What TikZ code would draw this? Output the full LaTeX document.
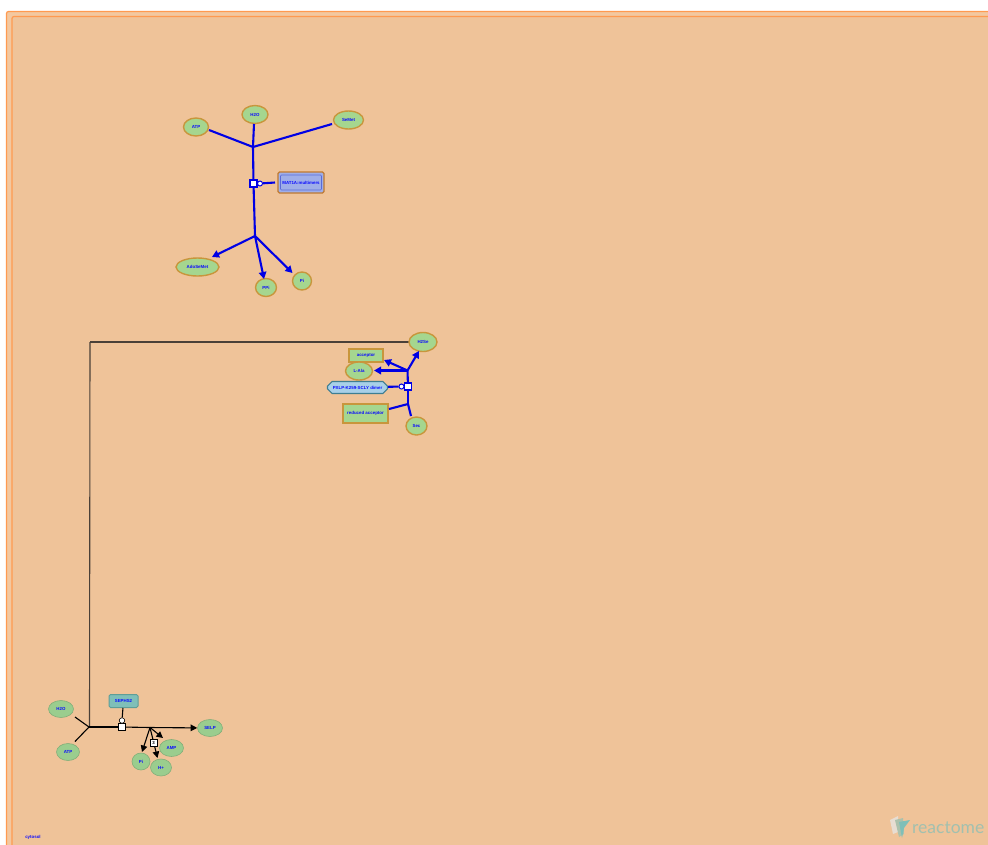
\documentclass[tikz,border=0pt]{standalone}
\usepackage{fontspec}
\setmainfont{Liberation Sans}
\newfontfamily\wmfont{Lato}
\usetikzlibrary{arrows.meta,shapes.geometric,shapes.misc}
\definecolor{bgin}{HTML}{EFC399}
\definecolor{bgmid}{HTML}{F3C8A0}
\definecolor{frame}{HTML}{FF9A50}
\definecolor{chem}{HTML}{A5D68F}
\definecolor{chemb}{HTML}{C8963C}
\definecolor{chemc}{HTML}{9ACD8E}
\definecolor{txt}{HTML}{0A0AFF}
\definecolor{cplx}{HTML}{9FAEE8}
\definecolor{cplxb}{HTML}{C07A30}
\definecolor{cplxi}{HTML}{5A6AD8}
\definecolor{prot}{HTML}{A8D0E8}
\definecolor{protb}{HTML}{3E7E92}
\definecolor{teal}{HTML}{7FBFB8}
\definecolor{tealb}{HTML}{5E9E98}
\definecolor{longl}{HTML}{4A4038}
\tikzset{
 x=1pt,y=-1pt,
 lab/.style={font=\bfseries\fontsize{4.4}{5}\selectfont,text=txt,inner sep=0pt},
 chemact/.style={ellipse,draw=chemb,line width=1.4pt,fill=chem,minimum width=#1,minimum height=18pt,lab},
 chemoff/.style={ellipse,draw=chemc!85!black,line width=.6pt,fill=chemc,minimum width=#1,minimum height=19pt,lab},
 flow/.style={draw=blue!90!black,line width=2.1pt},
 flowa/.style={flow,-{Triangle[length=7pt,width=7.5pt]}},
 kflow/.style={draw=black,line width=1.1pt},
 kflowa/.style={kflow,-{Triangle[length=6.5pt,width=6.5pt]}},
 proc/.style={draw=blue!90!black,fill=white,line width=1.2pt,minimum size=7pt,inner sep=0pt},
 kproc/.style={draw=black,fill=white,line width=.7pt,minimum size=7pt,inner sep=0pt},
 cat/.style={circle,draw=blue!90!black,fill=white,line width=1pt,minimum size=5pt,inner sep=0pt},
 kcat/.style={circle,draw=black,fill=white,line width=.6pt,minimum size=5.5pt,inner sep=0pt},
}
\begin{document}
\begin{tikzpicture}
\useasboundingbox (0,0) rectangle (988,844);
\fill[white] (0,0) rectangle (988,844);
\fill[bgmid,draw=frame,line width=1.2pt,rounded corners=2pt] (6.5,11.5) rectangle (996,850);
\fill[bgin,draw=frame,line width=1.2pt,rounded corners=2pt] (12,16.5) rectangle (996,850);
% compartment label
\node[lab] (cyt) at (33,837.5) {cytosol};
% top reaction
\coordinate (j1) at (253,147);
\coordinate (j2) at (255,236);
\node[chemact=25pt] (atp1) at (196,127) {ATP};
\node[chemact=26pt] (h2o1) at (255,114.5) {H2O};
\node[chemact=30pt] (semet) at (348.5,120) {SeMet};
\node[chemact=43pt] (adosemet) at (197.5,267) {AdoSeMet};
\node[chemact=21pt] (ppi) at (266,287.5) {PPi};
\node[chemact=19pt] (pi1) at (302,281) {Pi};
\draw[flow] (209,130) -- (j1);
\draw[flow] (254,124) -- (j1);
\draw[flow] (332,124) -- (j1);
\node[proc] (p1) at (253.5,183.5) {};
\node[cat] (c1) at (260,183.5) {};
\node[draw=cplxb,line width=1.1pt,fill=cplx,rounded corners=1.5pt,minimum width=46pt,minimum height=21pt] (mat) at (301,182.5) {};
\node[draw=cplxi,line width=.6pt,fill=cplx,rounded corners=1pt,minimum width=41pt,minimum height=15pt,lab] (matl) at (301,182.5) {MAT1A:multimers};
\draw[flow] (j1) -- (p1);
\draw[flow] (p1) -- (j2);
\draw[flow] (c1) -- (275,182.5);
\draw[flowa] (j2) -- (212,257);
\draw[flowa] (j2) -- (264,279);
\draw[flowa] (j2) -- (292.5,273);
% middle reaction
\coordinate (j3) at (407.5,370.5);
\coordinate (j4) at (408,404);
\draw[draw=longl,line width=1.1pt] (90,342) -- (409,342);
\draw[draw=longl,line width=1.1pt] (90,342) -- (89.5,727);
\node[chemact=28pt,minimum height=19pt] (h2se) at (423,342) {H2Se};
\node[draw=chemb,line width=1.4pt,fill=chem,minimum width=34pt,minimum height=13pt,lab] (acc) at (366,355.5) {acceptor};
\node[chemact=27pt,minimum height=18pt] (ala) at (359,371) {L-Ala};
\node[chamfered rectangle,chamfered rectangle xsep=3pt,chamfered rectangle ysep=3pt,draw=protb,line width=1.2pt,fill=prot,minimum width=60pt,minimum height=12pt,lab] (sc) at (357.5,387.5) {PXLP-K259-SCLY dimer};
\node[draw=chemb,line width=1.4pt,fill=chem,minimum width=45pt,minimum height=19pt,lab] (red) at (365.5,413.5) {reduced acceptor};
\node[chemact=21pt,minimum height=18pt] (sec) at (416.5,426) {Sec};
\node[proc] (p2) at (408,386.5) {};
\node[cat] (c2) at (401.5,386.5) {};
\draw[flow] (sc) -- (c2);
\draw[flow] (p2) -- (j3);
\draw[flow] (p2) -- (j4);
\draw[flow] (389,409) -- (j4);
\draw[flow] (411,416) -- (j4);
\draw[flowa] (j3) -- (419,351);
\draw[flowa] (j3) -- (384,360);
\draw[flowa] (j3) -- (374,370.5);
% bottom reaction
\coordinate (j5) at (89,727);
\coordinate (j6) at (150,727.5);
\node[chemoff=25pt,minimum height=17pt] (h2o2) at (61,709) {H2O};
\node[chemoff=23pt,minimum height=17pt] (atp2) at (68,752) {ATP};
\node[chemoff=25pt,minimum height=17pt] (selp) at (210,728) {SELP};
\node[chemoff=24pt,minimum height=17pt] (amp) at (171.5,748) {AMP};
\node[chemoff=18pt,minimum height=17pt] (pi2) at (141,761.5) {Pi};
\node[chemoff=21pt,minimum height=17pt] (hp) at (161,767.5) {H+};
\node[draw=tealb,line width=1pt,fill=teal,rounded corners=1.5pt,minimum width=29pt,minimum height=13pt,lab] (seph) at (123.5,701) {SEPHS2};
\node[kproc] (p3) at (121.5,727) {};
\node[kcat] (c3) at (122,720.5) {};
\draw[kflow] (seph) -- (c3);
\draw[kflow] (75,717) -- (j5);
\draw[kflow] (75,741.5) -- (j5);
\draw[kflow] (j5) -- (p3);
\draw[kflow] (p3) -- (j6);
\draw[kflowa] (j6) -- (selp);
\draw[kflowa] (j6) -- (163,738);
\draw[kflowa] (j6) -- (142,752);
\draw[kflowa] (j6) -- (157.5,758);
\node[kproc,minimum size=7pt,font=\bfseries\fontsize{4.4}{4}\selectfont] (st) at (153.5,742.5) {3};
% watermark
\fill[white!70!bgin!85!gray] (890,820) -- (898,816) -- (898,832) -- (893,834) -- cycle;
\fill[teal!60!bgin] (895,820) -- (903,818) -- (904,834) -- (899,837) -- cycle;
\fill[teal] (899,822) -- (910,820) -- (904,828) -- (902,838) -- cycle;
\node[anchor=west,inner sep=0pt,text=teal!70!bgin,font=\wmfont\fontsize{17.5}{18}\selectfont] (rx) at (912,828) {reactome};
\end{tikzpicture}
\end{document}
